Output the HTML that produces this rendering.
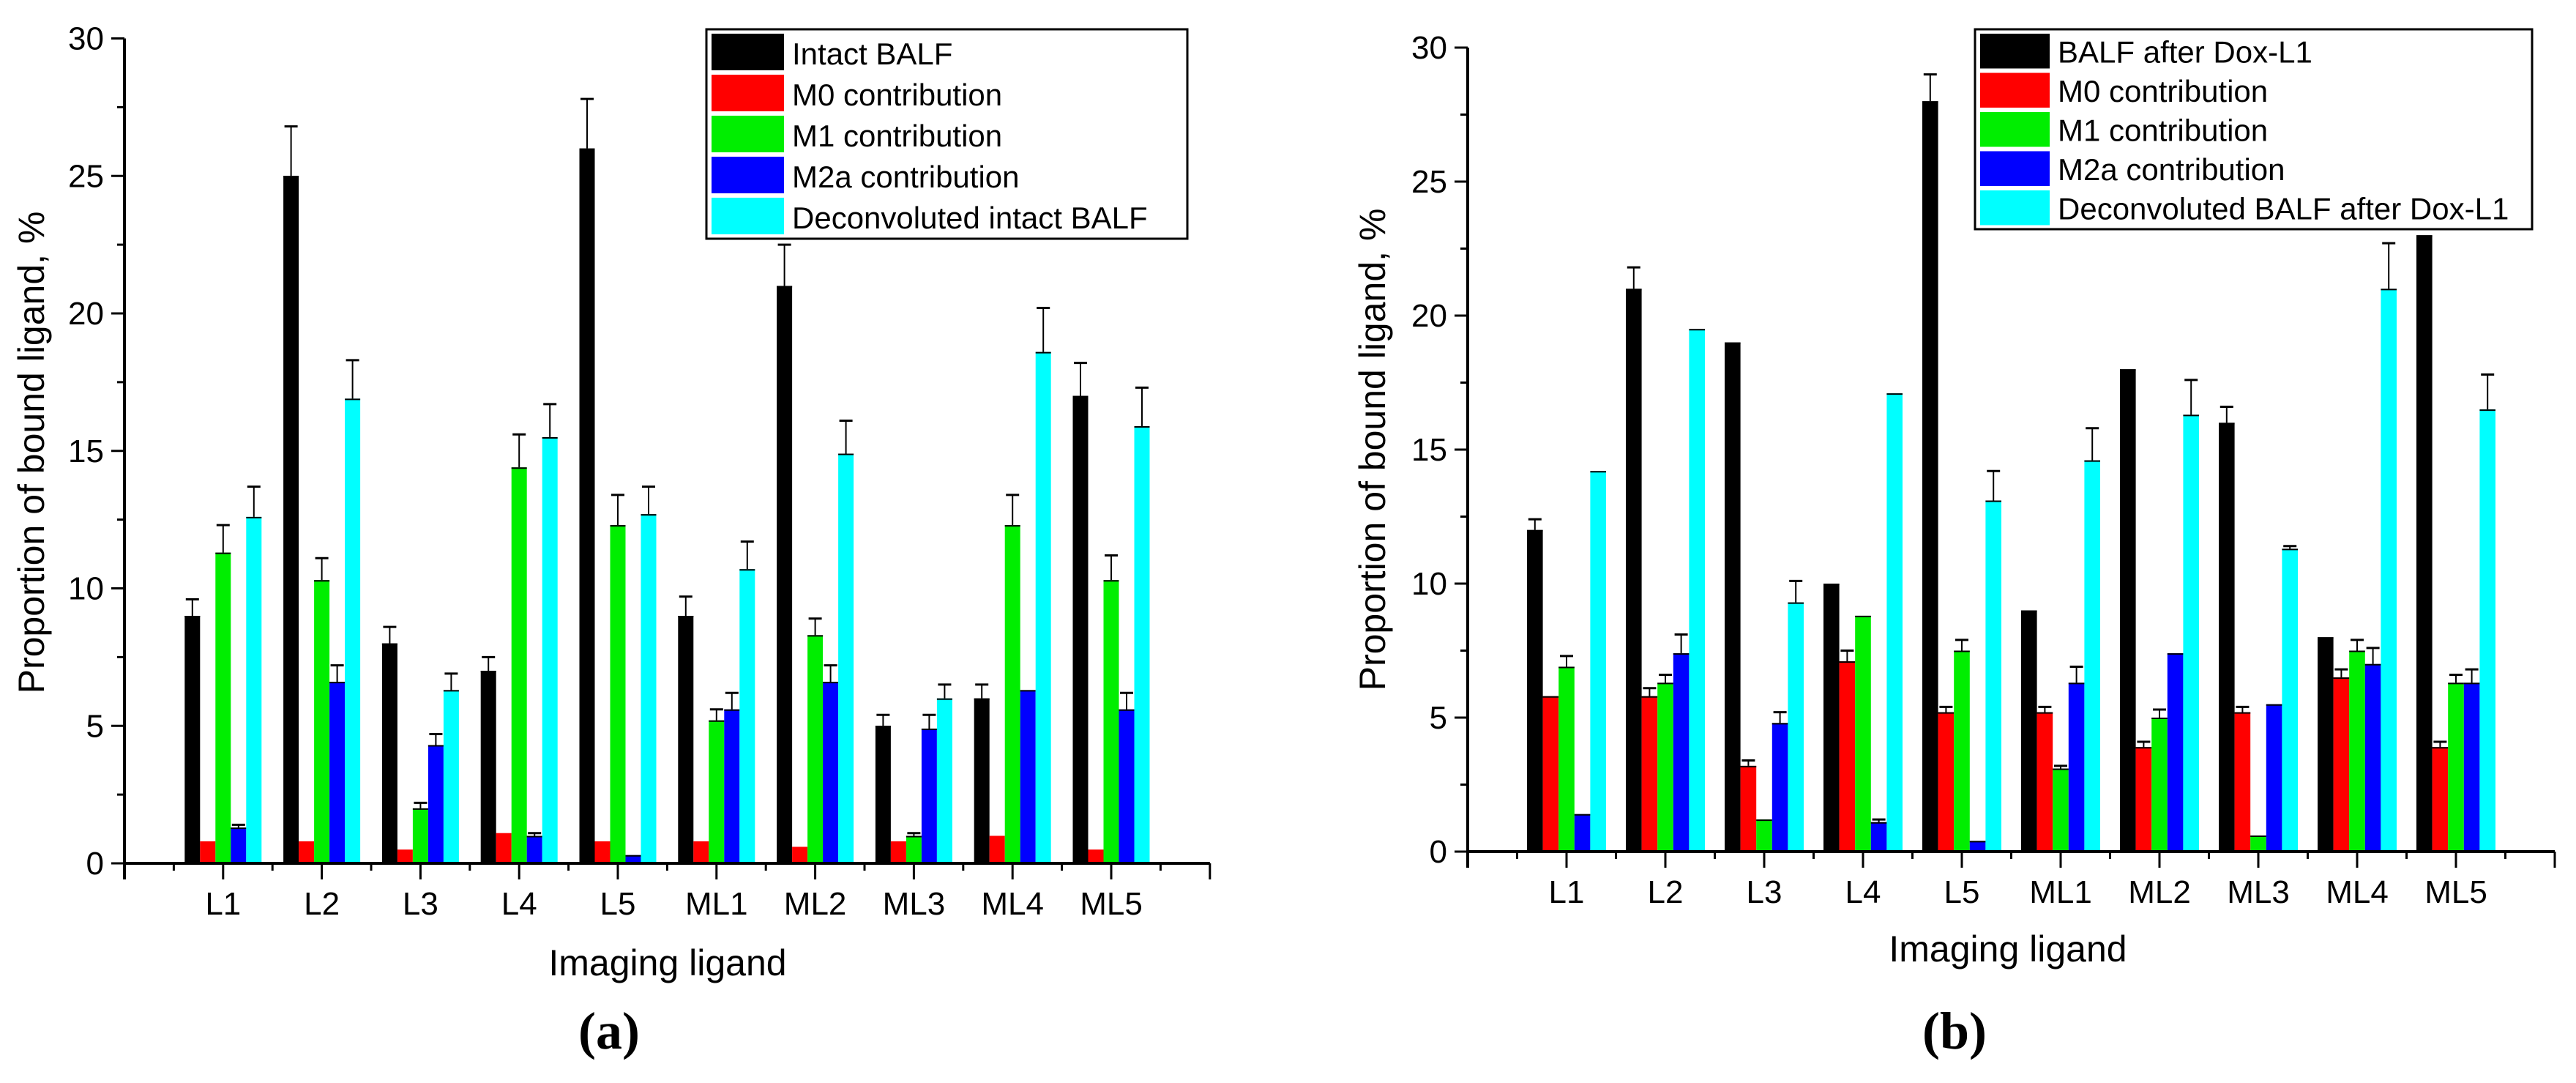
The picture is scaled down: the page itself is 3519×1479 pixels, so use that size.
<!DOCTYPE html>
<html><head><meta charset="utf-8">
<style>
html,body{margin:0;padding:0;background:#fff;}
svg{display:block;font-family:"Liberation Sans",sans-serif;}
</style></head>
<body>
<svg id="fig" width="3519" height="1479" viewBox="0 0 3519 1479" xmlns="http://www.w3.org/2000/svg"></svg>
<script>
const categories = ["L1","L2","L3","L4","L5","ML1","ML2","ML3","ML4","ML5"];
const yTicks = [0,5,10,15,20,25,30];
const colors = ["#000000","#ff0000","#00ee00","#0000ff","#00ffff"];
const legendA = ["Intact BALF","M0 contribution","M1 contribution","M2a contribution","Deconvoluted intact BALF"];
const legendB = ["BALF after Dox-L1","M0 contribution","M1 contribution","M2a contribution","Deconvoluted BALF after Dox-L1"];
// panel (a) values and error tops
const aBalf = [9,25,8,7,26,9,21,5,6,17];
const aBalfErr = [9.6,26.8,8.6,7.5,27.8,9.7,22.5,5.4,6.5,18.2];
const aM0 = [0.8,0.8,0.5,1.1,0.8,0.8,0.6,0.8,1.0,0.5];
const aM1 = [11.3,10.3,2.0,14.4,12.3,5.2,8.3,1.0,12.3,10.3];
const aM1Err = [12.3,11.1,2.2,15.6,13.4,5.6,8.9,1.1,13.4,11.2];
const aM2a = [1.3,6.6,4.3,1.0,0.3,5.6,6.6,4.9,6.3,5.6];
const aM2aErr = [1.4,7.2,4.7,1.1,0.3,6.2,7.2,5.4,6.3,6.2];
const aDec = [12.6,16.9,6.3,15.5,12.7,10.7,14.9,6.0,18.6,15.9];
const aDecErr = [13.7,18.3,6.9,16.7,13.7,11.7,16.1,6.5,20.2,17.3];
// panel (b)
const bBalf = [12,21,19,10,28,9,18,16,8,23];
const bBalfErr = [12.4,21.8,19,10,29,9,18,16.6,8,23];
const bM0 = [5.8,5.8,3.2,7.1,5.2,5.2,3.9,5.2,6.5,3.9];
const bM0Err = [5.8,6.1,3.4,7.5,5.4,5.4,4.1,5.4,6.8,4.1];
const bM1 = [6.9,6.3,1.2,8.8,7.5,3.1,5.0,0.6,7.5,6.3];
const bM1Err = [7.3,6.6,1.2,8.8,7.9,3.2,5.3,0.6,7.9,6.6];
const bM2a = [1.4,7.4,4.8,1.1,0.4,6.3,7.4,5.5,7.0,6.3];
const bM2aErr = [1.4,8.1,5.2,1.2,0.4,6.9,7.4,5.5,7.6,6.8];
const bDec = [14.2,19.5,9.3,17.1,13.1,14.6,16.3,11.3,21.0,16.5];
const bDecErr = [14.2,19.5,10.1,17.1,14.2,15.8,17.6,11.4,22.7,17.8];

const NS="http://www.w3.org/2000/svg";
const svg=document.getElementById('fig');
function mk(tag,attrs,parent){const e=document.createElementNS(NS,tag);for(const k in attrs)e.setAttribute(k,attrs[k]);(parent||svg).appendChild(e);return e;}

function panel(p){
  const g=mk('g',{});
  
  
  const ys=v=>p.y0-v*p.ppu;
  const xs=i=>p.x0+(i+1)*p.step;
  // bars
  p.series.forEach((s,si)=>{
    categories.forEach((c,i)=>{
      const v=s.vals[i];
      const x=xs(i)+(si-2.5)*p.bw;
      const r=mk('rect',{x:x,y:ys(v),width:p.bw,height:p.y0-ys(v),fill:colors[si]},g);
      
      
      if(s.err){
        const e=s.err[i];
        if(e>v+0.05){
          const cx=x+p.bw/2;
          mk('line',{x1:cx,y1:ys(v),x2:cx,y2:ys(e),stroke:'#000','stroke-width':2},g);
          mk('line',{x1:cx-9,y1:ys(e),x2:cx+9,y2:ys(e),stroke:'#000','stroke-width':3},g);
        }
        mk('line',{x1:x,y1:ys(v)+1,x2:x+p.bw,y2:ys(v)+1,stroke:'#000','stroke-width':2},g);
      }
    });
  });
  // axes
  const xEnd=p.x0+11*p.step;
  const ax=mk('line',{x1:p.x0,y1:p.y0,x2:xEnd,y2:p.y0,stroke:'#000','stroke-width':4},g);
  
  const ay=mk('line',{x1:p.x0,y1:p.y0+22,x2:p.x0,y2:ys(30),stroke:'#000','stroke-width':4},g);
  
  yTicks.forEach(t=>{
    mk('line',{x1:p.x0-18,y1:ys(t),x2:p.x0,y2:ys(t),stroke:'#000','stroke-width':3},g);
    const tx=mk('text',{x:p.x0-28,y:ys(t)+15,'font-size':44,'text-anchor':'end'},g);
    tx.textContent=t;
    
    if(t<30) mk('line',{x1:p.x0-10,y1:ys(t+2.5),x2:p.x0,y2:ys(t+2.5),stroke:'#000','stroke-width':3},g);
  });
  for(let i=0;i<=11;i++){
    mk('line',{x1:p.x0+i*p.step,y1:p.y0,x2:p.x0+i*p.step,y2:p.y0+22,stroke:'#000','stroke-width':3},g);
    if(i<11) mk('line',{x1:p.x0+(i+0.5)*p.step,y1:p.y0,x2:p.x0+(i+0.5)*p.step,y2:p.y0+10,stroke:'#000','stroke-width':3},g);
  }
  categories.forEach((c,i)=>{
    const tx=mk('text',{x:xs(i),y:p.y0+70,'font-size':44,'text-anchor':'middle'},g);
    tx.textContent=c;
    
  });
  const xt=mk('text',{x:p.xtX,y:p.xtY,'font-size':50,'text-anchor':'middle'},g);
  xt.textContent='Imaging ligand';
  
  const yt=mk('text',{x:0,y:0,'font-size':50,'text-anchor':'middle',transform:`translate(${p.ytX},${p.ytY}) rotate(-90)`},g);
  yt.textContent='Proportion of bound ligand, %';
  
  // legend
  const lg=mk('g',{},g);
  
  mk('rect',{x:p.lx,y:p.ly,width:p.lw,height:p.lh,fill:'#fff',stroke:'#000','stroke-width':3},lg);
  p.legend.forEach((t,i)=>{
    const ry=p.ly+6+i*p.lp;
    const sw=mk('rect',{x:p.lx+7,y:ry,width:p.sw,height:p.lp-6,fill:colors[i]},lg);
    
    const tx=mk('text',{x:p.lx+p.sw+18,y:ry+p.lp-14,'font-size':42},lg);
    tx.textContent=t;
    
  });
  const pl=mk('text',{x:p.plX,y:1432,'font-size':72,'font-weight':'bold','text-anchor':'middle','font-family':'"Liberation Serif",serif'},g);
  pl.textContent=p.label;
  
}

panel({id:'chart-a',x0:170,y0:1179,ppu:37.55,step:134.8,bw:21,
  series:[{key:'balf',vals:aBalf,err:aBalfErr},{key:'m0',vals:aM0,err:null},{key:'m1',vals:aM1,err:aM1Err},{key:'m2a',vals:aM2a,err:aM2aErr},{key:'dec',vals:aDec,err:aDecErr}],
  xtX:912,xtY:1332,ytX:60,ytY:618,lx:965,ly:40,lw:657,lh:286,lp:56,sw:99,legend:legendA,label:'(a)',plX:832});
panel({id:'chart-b',x0:2005,y0:1163,ppu:36.6,step:135,bw:21.6,
  series:[{key:'balf',vals:bBalf,err:bBalfErr},{key:'m0',vals:bM0,err:bM0Err},{key:'m1',vals:bM1,err:bM1Err},{key:'m2a',vals:bM2a,err:bM2aErr},{key:'dec',vals:bDec,err:bDecErr}],
  xtX:2743,xtY:1313,ytX:1892,ytY:614,lx:2698,ly:40,lw:761,lh:273,lp:53.5,sw:95,legend:legendB,label:'(b)',plX:2670});
</script>
</body></html>
